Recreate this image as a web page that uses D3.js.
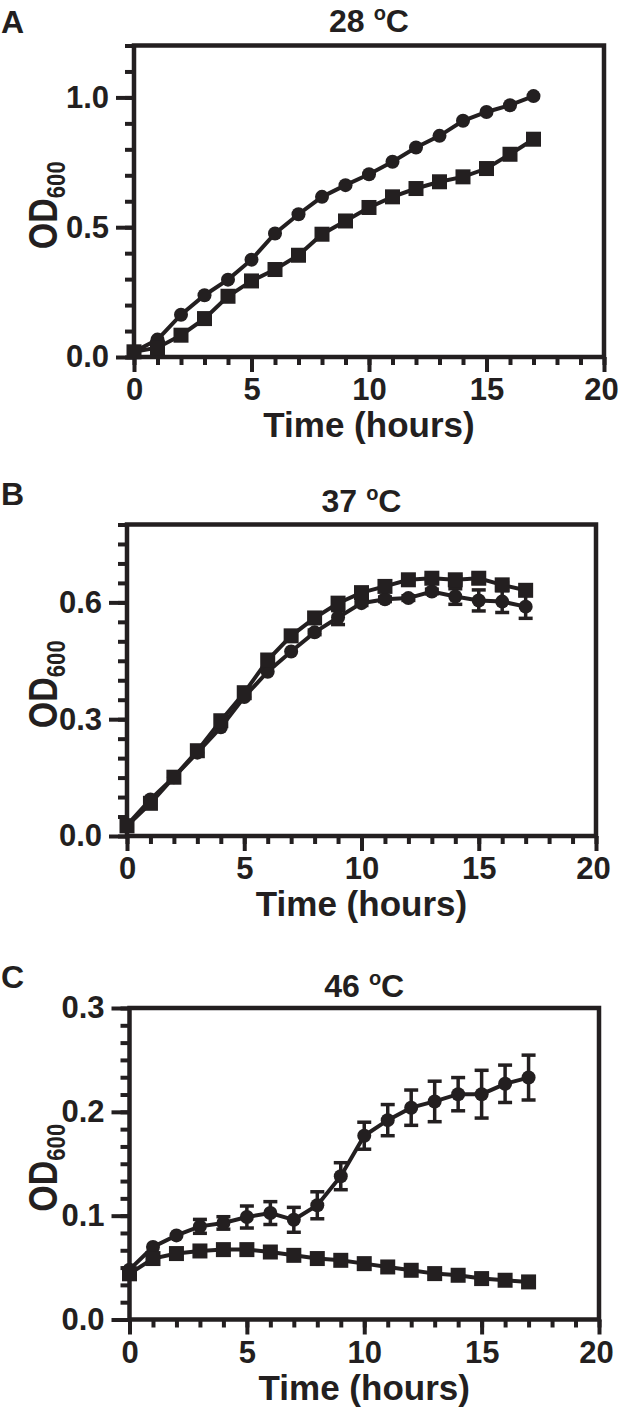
<!DOCTYPE html>
<html>
<head>
<meta charset="utf-8">
<script src="https://cdn.jsdelivr.net/npm/d3@7"></script>
<style>
  body { margin: 0; background: #fff; }
  svg text { font-family: "Liberation Sans", Arial, sans-serif; font-weight: bold; fill: #231f20; }
</style>
</head>
<body>
<div id="chart"></div>
<script>
// sampling times (h)
const hours = [0, 1, 2, 3, 4, 5, 6, 7, 8, 9, 10, 11, 12, 13, 14, 15, 16, 17];

const panelLetters = ["A", "B", "C"];
const temps = ["28", "37", "46"];

// 28 C
const od28Circle = [0.02, 0.067, 0.163, 0.238, 0.298, 0.375, 0.476, 0.55, 0.617, 0.662, 0.704, 0.752, 0.807, 0.852, 0.91, 0.944, 0.97, 1.005];
const od28Square = [0.02, 0.036, 0.084, 0.148, 0.234, 0.293, 0.337, 0.392, 0.473, 0.524, 0.576, 0.617, 0.649, 0.675, 0.694, 0.726, 0.781, 0.839];

// 37 C
const od37Circle = [0.028, 0.094, 0.151, 0.214, 0.279, 0.357, 0.422, 0.474, 0.523, 0.561, 0.598, 0.608, 0.611, 0.628, 0.615, 0.605, 0.602, 0.589];
const od37CircleErr = [0, 0, 0, 0, 0, 0, 0, 0, 0.006, 0.018, 0.006, 0.006, 0.006, 0.006, 0.02, 0.027, 0.028, 0.03];
const od37Square = [0.026, 0.084, 0.151, 0.219, 0.296, 0.368, 0.452, 0.514, 0.56, 0.598, 0.625, 0.641, 0.658, 0.662, 0.658, 0.662, 0.645, 0.631];
const od37SquareErr = [0, 0, 0, 0, 0, 0, 0, 0, 0, 0, 0, 0, 0, 0.006, 0.008, 0.012, 0.006, 0.006];

// 46 C
const od46Circle = [0.048, 0.0698, 0.081, 0.0897, 0.093, 0.0987, 0.1025, 0.096, 0.11, 0.138, 0.177, 0.192, 0.204, 0.21, 0.217, 0.217, 0.227, 0.233];
const od46CircleErr = [0, 0, 0, 0.0067, 0.006, 0.0106, 0.011, 0.012, 0.013, 0.013, 0.013, 0.015, 0.017, 0.0195, 0.016, 0.023, 0.018, 0.0216];
const od46Square = [0.044, 0.0587, 0.0635, 0.066, 0.0673, 0.0673, 0.065, 0.0618, 0.0587, 0.057, 0.0538, 0.0506, 0.0474, 0.0442, 0.0426, 0.0394, 0.0378, 0.0362];

const ink = "#231f20";
const width = 620, height = 1422;

const svg = d3.select("#chart").append("svg")
    .attr("width", width)
    .attr("height", height)
    .attr("viewBox", [0, 0, width, height]);

const panels = [
    { left: 134, right: 604, top: 45.5, bottom: 357, letterY: 33, titleY: 32, yMax: 1.2, major: [0, 0.5, 1.0], minorStep: 0.1,
      circle: od28Circle, circleErr: null, square: od28Square, squareErr: null },
    { left: 127, right: 596, top: 524.5, bottom: 836, letterY: 505, titleY: 512, yMax: 0.8, major: [0, 0.3, 0.6], minorStep: 0.05,
      circle: od37Circle, circleErr: od37CircleErr, square: od37Square, squareErr: od37SquareErr },
    { left: 129.5, right: 599, top: 1008, bottom: 1319.5, letterY: 988, titleY: 997, yMax: 0.3, major: [0, 0.1, 0.2, 0.3], minorStep: 0.1 / 6,
      circle: od46Circle, circleErr: od46CircleErr, square: od46Square, squareErr: null }
];

panels.forEach((p, i) => {
    const g = svg.append("g");

    let x = d3.scaleLinear().domain([0, 20]).range([p.left, p.right]);
    let y = d3.scaleLinear().domain([0, p.yMax]).range([p.bottom, p.top]);

    // panel letter + title
    g.append("text")
        .attr("x", 1).attr("y", p.letterY)
        .attr("font-size", 32)
        .text(panelLetters[i]);

    const title = g.append("text")
        .attr("x", (p.left + p.right) / 2).attr("y", p.titleY)
        .attr("text-anchor", "middle")
        .attr("font-size", 32);
    title.append("tspan").text(temps[i]);
    title.append("tspan").attr("font-size", 20).attr("dx", 9).attr("dy", -12).text("o");
    title.append("tspan").attr("dy", 12).text("C");

    // minor ticks
    const minorY = d3.range(0, p.yMax + 1e-9, p.minorStep);
    g.append("g")
        .attr("transform", `translate(${p.left},0)`)
        .call(d3.axisLeft(y).tickValues(minorY).tickSize(9).tickFormat(""));
    g.append("g")
        .attr("transform", `translate(0,${p.bottom})`)
        .call(d3.axisBottom(x).tickValues(d3.range(0, 21, 1)).tickSize(8).tickFormat(""));

    // major ticks
    g.append("g")
        .attr("class", "y-axis")
        .attr("transform", `translate(${p.left},0)`)
        .call(d3.axisLeft(y).tickValues(p.major).tickSize(18).tickPadding(7).tickFormat(d3.format(".1f")));
    g.append("g")
        .attr("class", "x-axis")
        .attr("transform", `translate(0,${p.bottom})`)
        .call(d3.axisBottom(x).tickValues([0, 5, 10, 15, 20]).tickSize(15).tickPadding(6));

    g.selectAll(".domain").remove();
    g.selectAll(".tick line").attr("stroke", ink).attr("stroke-width", 4);
    g.selectAll(".tick text")
        .attr("font-size", 31)
        .attr("font-family", "'Liberation Sans', Arial, sans-serif")
        .attr("font-weight", "bold")
        .attr("fill", ink);
    // keep the "20" inside the page edge
    g.selectAll(".x-axis .tick text").filter(d => d === 20).attr("dx", -3);

    // frame
    g.append("rect")
        .attr("x", p.left).attr("y", p.top)
        .attr("width", p.right - p.left).attr("height", p.bottom - p.top)
        .attr("fill", "none")
        .attr("stroke", ink)
        .attr("stroke-width", 4.5);

    // axis titles
    g.append("text")
        .attr("x", (p.left + p.right) / 2).attr("y", p.bottom + 80)
        .attr("text-anchor", "middle")
        .attr("font-size", 35)
        .text("Time (hours)");

    const yl = g.append("text")
        .attr("transform", `translate(57,${(p.top + p.bottom) / 2 + 4}) rotate(-90) scale(0.85,1)`)
        .attr("text-anchor", "middle")
        .attr("font-size", 40);
    yl.append("tspan").text("OD");
    yl.append("tspan").attr("font-size", 26).attr("dy", 8).text("600");

    // series
    const line = d3.line().x((d, j) => x(hours[j])).y(d => y(d));

    function drawErr(vals, errs) {
        if (!errs) return;
        const eg = g.append("g").attr("stroke", ink).attr("stroke-width", 3.5);
        vals.forEach((v, j) => {
            if (!errs[j]) return;
            const cx = x(hours[j]);
            eg.append("line").attr("x1", cx).attr("x2", cx).attr("y1", y(v - errs[j])).attr("y2", y(v + errs[j]));
            eg.append("line").attr("x1", cx - 7).attr("x2", cx + 7).attr("y1", y(v - errs[j])).attr("y2", y(v - errs[j]));
            eg.append("line").attr("x1", cx - 7).attr("x2", cx + 7).attr("y1", y(v + errs[j])).attr("y2", y(v + errs[j]));
        });
    }

    drawErr(p.circle, p.circleErr);
    g.append("path")
        .datum(p.circle)
        .attr("fill", "none").attr("stroke", ink).attr("stroke-width", 4)
        .attr("d", line);
    g.append("g").attr("fill", ink)
        .selectAll("circle")
        .data(p.circle)
        .join("circle")
        .attr("cx", (d, j) => x(hours[j]))
        .attr("cy", d => y(d))
        .attr("r", 7);

    drawErr(p.square, p.squareErr);
    g.append("path")
        .datum(p.square)
        .attr("fill", "none").attr("stroke", ink).attr("stroke-width", 4)
        .attr("d", line);
    g.append("g").attr("fill", ink)
        .selectAll("rect")
        .data(p.square)
        .join("rect")
        .attr("x", (d, j) => x(hours[j]) - 7.5)
        .attr("y", d => y(d) - 7.5)
        .attr("width", 15)
        .attr("height", 15);
});
</script>
</body>
</html>
